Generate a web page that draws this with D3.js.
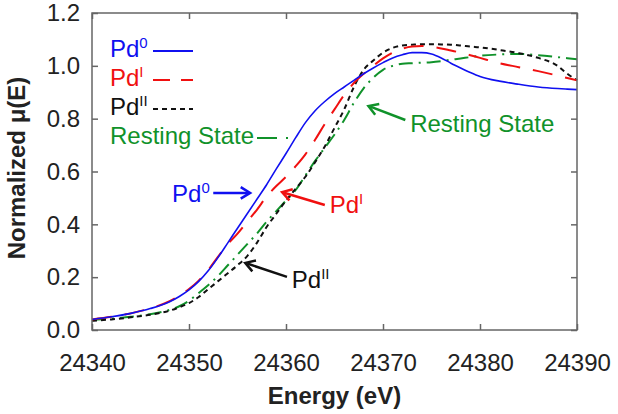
<!DOCTYPE html>
<html>
<head>
<meta charset="utf-8">
<script src="https://cdn.jsdelivr.net/npm/d3@7"></script>
<style>
  body { margin: 0; background: #fff; }
  svg { font-family: "Liberation Sans", Arial, sans-serif; }
</style>
</head>
<body>
<svg width="618" height="414"></svg>
<script>

// Energy grid (eV)
var energy = [24340, 24342, 24344, 24346, 24348, 24349, 24350, 24351, 24352, 24353,
  24354, 24355, 24356, 24357, 24358, 24359, 24360, 24361, 24362, 24363,
  24364, 24365, 24366, 24367, 24368, 24369, 24370, 24371, 24372, 24373,
  24374, 24375, 24376, 24377, 24378, 24379, 24380, 24382, 24384, 24386,
  24388, 24389, 24390];

// Normalized mu(E) for each species
var pd0 = [0.040, 0.050, 0.063, 0.081, 0.107, 0.127, 0.152, 0.184, 0.225, 0.275,
  0.330, 0.385, 0.440, 0.495, 0.550, 0.610, 0.668, 0.728, 0.785, 0.830,
  0.865, 0.895, 0.920, 0.945, 0.970, 0.992, 1.012, 1.030, 1.042, 1.050,
  1.050, 1.045, 1.030, 1.010, 0.992, 0.975, 0.960, 0.942, 0.930, 0.920,
  0.914, 0.912, 0.910];

var pd1 = [0.040, 0.050, 0.063, 0.082, 0.109, 0.130, 0.155, 0.187, 0.228, 0.278,
  0.325, 0.365, 0.410, 0.455, 0.505, 0.545, 0.580, 0.620, 0.665, 0.720,
  0.780, 0.835, 0.890, 0.935, 0.970, 1.000, 1.028, 1.050, 1.065, 1.073,
  1.075, 1.072, 1.066, 1.058, 1.050, 1.040, 1.030, 1.010, 0.995, 0.980,
  0.963, 0.954, 0.945];

var pd2 = [0.035, 0.040, 0.048, 0.058, 0.073, 0.086, 0.102, 0.125, 0.155, 0.185,
  0.215, 0.245, 0.280, 0.330, 0.390, 0.440, 0.490, 0.535, 0.580, 0.635,
  0.695, 0.765, 0.835, 0.920, 0.985, 1.020, 1.050, 1.068, 1.077, 1.080,
  1.082, 1.082, 1.081, 1.080, 1.077, 1.073, 1.070, 1.060, 1.048, 1.030,
  1.000, 0.970, 0.945];

var resting = [0.038, 0.043, 0.050, 0.060, 0.076, 0.090, 0.111, 0.140, 0.170, 0.205,
  0.245, 0.285, 0.325, 0.365, 0.410, 0.450, 0.490, 0.530, 0.585, 0.640,
  0.690, 0.740, 0.795, 0.860, 0.915, 0.955, 0.985, 1.000, 1.008, 1.010,
  1.012, 1.014, 1.018, 1.023, 1.028, 1.033, 1.038, 1.043, 1.045, 1.040,
  1.033, 1.029, 1.025];

// Tick values
var xTicks = [24340, 24350, 24360, 24370, 24380, 24390];
var yTicks = [0, 0.2, 0.4, 0.6, 0.8, 1.0, 1.2];

var blue = '#1010f0', red = '#f01010', black = '#111', green = '#10922a';

var series = [
  {name: 'Pd', sup: '0', values: pd0, color: blue, dash: null, width: 1.6},
  {name: 'Pd', sup: 'I', values: pd1, color: red, dash: '20,13', width: 2},
  {name: 'Pd', sup: 'II', values: pd2, color: black, dash: '5,4', width: 2},
  {name: 'Resting State', sup: '', values: resting, color: green, dash: '14,6,2,6', width: 2}
];

// Annotations in data units: text anchor and arrow from -> to
var notes = [
  {name: 'Pd', sup: '0', color: blue, tx: 24348.25, ty: 0.485, a: [24352.5, 0.519, 24356.3, 0.519]},
  {name: 'Pd', sup: 'I', color: red, tx: 24364.5, ty: 0.443, a: [24364.0, 0.473, 24359.6, 0.522]},
  {name: 'Pd', sup: 'II', color: black, tx: 24360.6, ty: 0.159, a: [24360.1, 0.201, 24355.8, 0.254]},
  {name: 'Resting State', sup: '', color: green, tx: 24372.8, ty: 0.75, a: [24372.3, 0.795, 24368.5, 0.848]}
];

var svg = d3.select('svg');
var x = d3.scaleLinear().domain([24340, 24390]).range([92, 577]);
var y = d3.scaleLinear().domain([0, 1.2]).range([330, 13]);
var frame = '#666';

// Axes with inward ticks on all four sides
function drawAxes() {
  var bottom = svg.append('g').attr('transform', 'translate(0,330)')
    .call(d3.axisBottom(x).tickValues(xTicks).tickFormat(d3.format('d'))
      .tickSizeInner(-6).tickSizeOuter(0).tickPadding(24));
  var left = svg.append('g').attr('transform', 'translate(92,0)')
    .call(d3.axisLeft(y).tickValues(yTicks).tickFormat(d3.format('.1f'))
      .tickSizeInner(-6).tickSizeOuter(0).tickPadding(12));
  var top = svg.append('g').attr('transform', 'translate(0,13)')
    .call(d3.axisTop(x).tickValues(xTicks).tickFormat('')
      .tickSizeInner(-6).tickSizeOuter(0));
  var right = svg.append('g').attr('transform', 'translate(577,0)')
    .call(d3.axisRight(y).tickValues(yTicks).tickFormat('')
      .tickSizeInner(-6).tickSizeOuter(0));

  [bottom, left, top, right].forEach(function(g) {
    g.select('.domain').remove();
    g.selectAll('line').attr('stroke', frame).attr('stroke-width', 1.5);
    g.selectAll('text').attr('font-size', 24).attr('fill', '#222')
      .attr('font-family', '"Liberation Sans", Arial, sans-serif');
  });

  svg.append('rect')
    .attr('x', 92).attr('y', 13).attr('width', 485).attr('height', 317)
    .attr('fill', 'none').attr('stroke', frame).attr('stroke-width', 1.5);

  svg.append('text')
    .attr('x', 334.5).attr('y', 404)
    .attr('text-anchor', 'middle').attr('font-size', 24).attr('font-weight', 'bold')
    .attr('fill', '#222')
    .text('Energy (eV)');

  svg.append('text')
    .attr('transform', 'translate(25,168) rotate(-90)')
    .attr('text-anchor', 'middle').attr('font-size', 24).attr('font-weight', 'bold')
    .attr('fill', '#222')
    .text('Normalized \u03bc(E)');
}

// Label with an optional superscript
function label(g, d, px, py) {
  var t = g.append('text').attr('x', px).attr('y', py)
    .attr('font-size', 24).attr('fill', d.color).text(d.name);
  if (d.sup) {
    t.append('tspan').attr('dy', -9).attr('font-size', 15).text(d.sup);
  }
}

// Arrow with an open chevron head
function arrow(g, x1, y1, x2, y2, color) {
  var ang = Math.atan2(y2 - y1, x2 - x1);
  var L = 11, w = 0.55;
  g.append('line')
    .attr('x1', x1).attr('y1', y1).attr('x2', x2 - 2 * Math.cos(ang)).attr('y2', y2 - 2 * Math.sin(ang))
    .attr('stroke', color).attr('stroke-width', 2.5);
  g.append('path')
    .attr('d', 'M' + (x2 - L * Math.cos(ang - w)) + ',' + (y2 - L * Math.sin(ang - w)) +
      'L' + x2 + ',' + y2 +
      'L' + (x2 - L * Math.cos(ang + w)) + ',' + (y2 - L * Math.sin(ang + w)))
    .attr('fill', 'none').attr('stroke', color).attr('stroke-width', 2.5)
    .attr('stroke-linejoin', 'miter');
}

function drawCurves() {
  var line = d3.line()
    .x(function(d, i) { return x(energy[i]); })
    .y(function(d) { return y(d); })
    .curve(d3.curveMonotoneX);

  // draw back to front: resting, PdII, PdI, Pd0
  series.slice().reverse().forEach(function(s) {
    svg.append('path')
      .attr('d', line(s.values))
      .attr('fill', 'none')
      .attr('stroke', s.color)
      .attr('stroke-width', s.width)
      .attr('stroke-dasharray', s.dash);
  });
}

function drawLegend() {
  var g = svg.append('g');
  series.forEach(function(s, i) {
    var by = 57 + i * 29;
    label(g, s, 110, by);
    var x0 = s.sup ? 153 : 257;
    var x1 = s.sup ? 193 : 292;
    g.append('line')
      .attr('x1', x0).attr('x2', x1).attr('y1', by - 6).attr('y2', by - 6)
      .attr('stroke', s.color).attr('stroke-width', 2)
      .attr('stroke-dasharray', s.dash ? (s.sup ? (s.sup == 'I' ? '17,11' : s.dash) : '20,9,2,6') : null);
  });
}

function drawNotes() {
  var g = svg.append('g');
  notes.forEach(function(n) {
    label(g, n, x(n.tx), y(n.ty));
    arrow(g, x(n.a[0]), y(n.a[1]), x(n.a[2]), y(n.a[3]), n.color);
  });
}

drawCurves();
drawAxes();
drawLegend();
drawNotes();
</script>
</body>
</html>
